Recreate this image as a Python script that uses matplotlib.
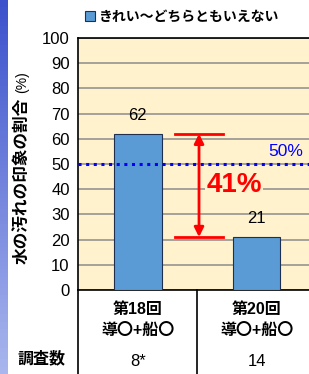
import matplotlib
matplotlib.use('Agg')
import matplotlib.pyplot as plt
import numpy as np
from matplotlib.patches import Patch

plt.rcParams['font.family'] = ['Liberation Sans', 'Noto Sans CJK JP']

# data
categories = ['第18回\n導〇+船〇', '第20回\n導〇+船〇']
counts = ['8*', '14']
values = [62, 21]
legend_label = 'きれい～どちらともいえない'
y_label = '水の汚れの印象の割合'
y_unit = '(%)'
ref_level = 50
diff_label = '41%'

W, H = 309, 374
fig = plt.figure(figsize=(W / 100, H / 100), dpi=100)
fig.patch.set_facecolor('white')

# blue gradient strip on the left edge
strip = fig.add_axes([0, 0, 8 / W, 1])
grad = np.linspace(0, 1, 100).reshape(-1, 1)
strip.imshow(grad, aspect='auto', cmap=matplotlib.colors.LinearSegmentedColormap.from_list(
    'strip', ['#3c52cc', '#a9b6ee']), extent=[0, 1, 0, 1])
strip.axis('off')

# main axes (pixel layout)
left, right, top, bottom = 78, 316, 38, 290
ax = fig.add_axes([left / W, (H - bottom) / H, (right - left) / W, (bottom - top) / H])
ax.set_facecolor('#fff2cc')
x = np.arange(len(values))
ax.bar(x, values, width=0.4, color='#5b9bd5', edgecolor='#1f2f4f', linewidth=0.8, zorder=3)
ax.set_xlim(-0.504, 1.5)
ax.set_ylim(0, 100)
ax.set_yticks(range(0, 101, 10))
ax.yaxis.grid(True, color='#8c8c8c', linewidth=1.1, zorder=0)
ax.set_xticks([])
ax.tick_params(axis='y', length=0, labelsize=12, pad=6)
ax.spines['right'].set_visible(False)
for s in ['left', 'top', 'bottom']:
    ax.spines[s].set_linewidth(1.2)

# y label: bold text plus smaller unit
fig.text(22 / W, 1 - 181 / H, y_label, rotation=90, ha='center', va='center',
         fontsize=12, fontweight='bold')
fig.text(22 / W, 1 - 82 / H, y_unit, rotation=90, ha='center', va='center', fontsize=10)

# value labels
for xi, v in zip(x, values):
    ax.annotate(str(v), (xi, v), xytext=(0, 8), textcoords='offset points',
                ha='center', va='bottom', fontsize=12)

# 50% reference line
ax.axhline(ref_level, color='#0000ff', linestyle=(0, (1, 1.5)), linewidth=2.2, zorder=4)
ax.text(1.245, ref_level + 4.8, '50%', color='#0000ff', fontsize=12.5, ha='center', va='center')

# difference annotation
for v in values:
    ax.plot([0.31, 0.72], [v, v], color='#ff0000', linewidth=2, zorder=5)
ax.annotate('', xy=(0.515, values[0]), xytext=(0.515, values[1]),
            arrowprops=dict(arrowstyle='<|-|>', color='#ff0000', lw=2,
                            mutation_scale=14, shrinkA=0, shrinkB=0), zorder=5)
ax.text(0.81, 41.7, diff_label, color='#ff0000', fontsize=20, fontweight='bold',
        ha='center', va='center', zorder=6,
        bbox=dict(facecolor='#fff2cc', edgecolor='none', pad=1))

# category table below the axes
ymin = -(H - bottom) / 2.52
for xv in [-0.504, 0.5]:
    ax.plot([xv, xv], [0, ymin], color='black', linewidth=1.2, clip_on=False)
for xi, cat, n in zip(x, categories, counts):
    ax.text(xi, -12, cat, ha='center', va='center', fontsize=11.5, fontweight='bold',
            linespacing=1.45, clip_on=False)
    ax.text(xi, -28.2, n, ha='center', va='center', fontsize=12, clip_on=False)
fig.text(42 / W, 1 - 358 / H, '調査数', ha='center', va='center', fontsize=11.5, fontweight='bold')

# legend at top
fig.legend(handles=[Patch(facecolor='#5b9bd5', edgecolor='#1f2f4f', linewidth=0.8)],
           labels=[legend_label], loc='center', bbox_to_anchor=(182 / W, 1 - 17 / H),
           frameon=False, handlelength=0.7, handleheight=0.7,
           handletextpad=0.3, prop={'weight': 'bold', 'size': 10})

fig.savefig('out.png', dpi=100)
